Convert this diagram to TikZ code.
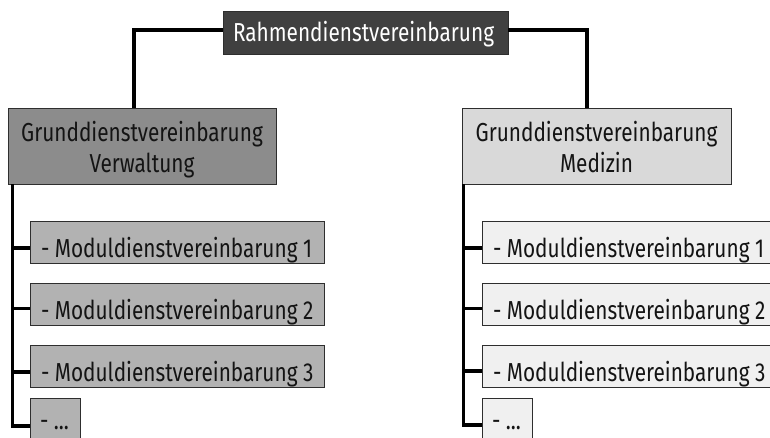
\documentclass[tikz,border=0pt]{standalone}
\usepackage{fontspec}
\setmainfont{Fira Sans}[FakeStretch=0.8]
\definecolor{topfill}{HTML}{404040}
\definecolor{lbfill}{HTML}{8C8C8C}
\definecolor{rbfill}{HTML}{D9D9D9}
\definecolor{lmfill}{HTML}{B2B2B2}
\definecolor{rmfill}{HTML}{F0F0F0}
\definecolor{boxline}{HTML}{2E2E2E}
\definecolor{txt}{HTML}{141414}
\begin{document}
\begin{tikzpicture}[x=1pt,y=-1pt,
  box/.style={draw=boxline, line width=0.9pt, inner sep=0pt, text=txt,
    font=\fontsize{26}{31}\selectfont},
  topbox/.style={box, fill=topfill, text=white, minimum width=285pt, minimum height=43pt,
    text height=31pt, text depth=12pt},
  bigbox/.style={box, minimum width=268pt, minimum height=76pt,
    text height=34pt, text depth=42pt},
  modbox/.style={box, minimum width=294pt, minimum height=42pt,
    text height=36pt, text depth=6pt},
  dotbox/.style={box, minimum width=50pt, minimum height=42pt,
    text height=31pt, text depth=11pt},
  conn/.style={line width=3.2pt, black, line join=miter}]
\fill[white] (0,0) rectangle (770,438);
\useasboundingbox (0,0) rectangle (770,438);
\clip (0,0) rectangle (770,438);
% boxes
\node[topbox] (top) at (365.5,32.5) {\makebox[285pt][l]{\hspace*{10pt}Rahmendienstvereinbarung}};
\node[bigbox, fill=lbfill] (lb) at (142,146) {\parbox[t]{268pt}{\centering Grunddienstvereinbarung\\Verwaltung}};
\node[bigbox, fill=rbfill, minimum width=269pt] (rb) at (596.5,146) {\parbox[t]{269pt}{\centering Grunddienstvereinbarung\\Medizin}};
\node[modbox, fill=lmfill] (lm1) at (177,242) {\makebox[294pt][l]{\hspace*{11pt}- Moduldienstvereinbarung 1}};
\node[modbox, fill=lmfill] (lm2) at (177,304.5) {\makebox[294pt][l]{\hspace*{11pt}- Moduldienstvereinbarung 2}};
\node[modbox, fill=lmfill] (lm3) at (177,366) {\makebox[294pt][l]{\hspace*{11pt}- Moduldienstvereinbarung 3}};
\node[dotbox, fill=lmfill] (lm4) at (55,419) {\makebox[50pt][l]{\hspace*{10pt}- ...}};
\node[modbox, fill=rmfill] (rm1) at (629,242) {\makebox[294pt][l]{\hspace*{11pt}- Moduldienstvereinbarung 1}};
\node[modbox, fill=rmfill] (rm2) at (629,304.5) {\makebox[294pt][l]{\hspace*{11pt}- Moduldienstvereinbarung 2}};
\node[modbox, fill=rmfill] (rm3) at (629,366) {\makebox[294pt][l]{\hspace*{11pt}- Moduldienstvereinbarung 3}};
\node[dotbox, fill=rmfill] (rm4) at (507,419) {\makebox[50pt][l]{\hspace*{10pt}- ...}};
% connectors
\draw[conn] ([yshift=2.5pt]top.west) -| ([xshift=-8pt]lb.north);
\draw[conn] ([yshift=2.5pt]top.east) -| ([xshift=-9.5pt]rb.north);
\coordinate (lt) at ([xshift=5pt]lb.south west);
\coordinate (rt) at ([xshift=2pt]rb.south west);
\draw[conn] (lt) |- ([yshift=-6pt]lm1.west);
\draw[conn] (lt) |- ([yshift=-4pt]lm2.west);
\draw[conn] (lt) |- ([yshift=-6pt]lm3.west);
\draw[conn] (lt) |- ([yshift=-7pt]lm4.west);
\draw[conn] (rt) |- ([yshift=-6pt]rm1.west);
\draw[conn] (rt) |- ([yshift=-4pt]rm2.west);
\draw[conn] (rt) |- ([yshift=-5pt]rm3.west);
\draw[conn] (rt) |- ([yshift=-6pt]rm4.west);
\end{tikzpicture}
\end{document}
